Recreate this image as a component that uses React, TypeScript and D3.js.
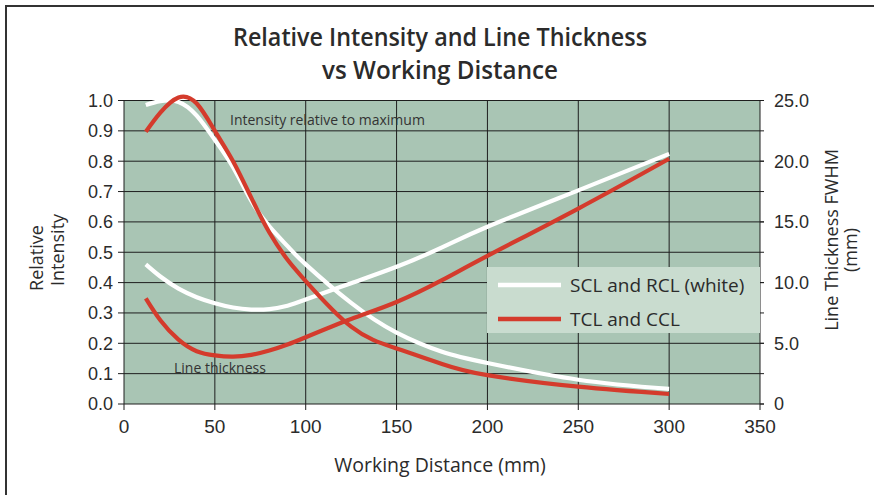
import * as d3 from 'd3';

// working distance (mm) sample points
const distance = [12, 20, 30, 40, 50, 60, 70, 80, 90, 100, 125, 150, 175, 200, 250, 300];

// relative intensity (left axis)
const intensitySCL = [0.985, 0.998, 0.995, 0.95, 0.87, 0.78, 0.67, 0.585, 0.52, 0.46, 0.333, 0.235, 0.172, 0.135, 0.08, 0.05];
const intensityTCL = [0.897, 0.96, 1.01, 0.99, 0.9, 0.8, 0.68, 0.565, 0.475, 0.405, 0.255, 0.183, 0.132, 0.095, 0.057, 0.033];

// line thickness FWHM in mm (right axis)
const thicknessSCL = [11.5, 10.5, 9.5, 8.8, 8.3, 7.95, 7.78, 7.82, 8.1, 8.6, 9.95, 11.3, 12.9, 14.6, 17.6, 20.6];
const thicknessTCL = [8.7, 6.9, 5.3, 4.35, 4.0, 3.9, 4.05, 4.4, 4.9, 5.5, 7.0, 8.4, 10.2, 12.2, 16.1, 20.2];

const xTicks = [0, 50, 100, 150, 200, 250, 300, 350];
const leftTicks = [0, 0.1, 0.2, 0.3, 0.4, 0.5, 0.6, 0.7, 0.8, 0.9, 1.0];
const rightTicks = [0, 5, 10, 15, 20, 25];

const legendItems = [
  { label: 'SCL and RCL (white)', color: '#ffffff' },
  { label: 'TCL and CCL', color: '#d43b2c' },
];

const W = 874;
const H = 495;
const margin = { left: 124, right: 114, top: 100.5, bottom: 91 };

const RED = '#d43b2c';
const TEXT = '#2b2b2b';
const SANS = "'Open Sans', 'Noto Sans', sans-serif";
const ARIAL = "'Liberation Sans', Arial, sans-serif";

export default function App() {
  const x = d3.scaleLinear().domain([0, 350]).range([margin.left, W - margin.right]);
  const yL = d3.scaleLinear().domain([0, 1]).range([H - margin.bottom, margin.top]);
  const yR = d3.scaleLinear().domain([0, 25]).range([H - margin.bottom, margin.top]);

  const lineL = d3
    .line<number>()
    .x((_, i) => x(distance[i]))
    .y((d) => yL(d))
    .curve(d3.curveNatural);
  const lineR = d3
    .line<number>()
    .x((_, i) => x(distance[i]))
    .y((d) => yR(d))
    .curve(d3.curveNatural);

  const [x0, x1] = x.range();
  const [yb, yt] = yL.range();

  return (
    <svg width={W} height={H} style={{ position: 'absolute', left: 0, top: 0, background: '#fff' }}>
      {/* outer frame */}
      <rect x={6} y={6} width={W + 20} height={H + 20} fill="none" stroke="#333" strokeWidth={2} />

      {/* title */}
      <g fill={TEXT} fontFamily="'Open Sans', sans-serif" fontWeight={600} fontSize={25} textAnchor="middle">
        <text x={440} y={46} textLength={414} lengthAdjust="spacingAndGlyphs">Relative Intensity and Line Thickness</text>
        <text x={440} y={79} textLength={236} lengthAdjust="spacingAndGlyphs">vs Working Distance</text>
      </g>

      {/* plot area */}
      <rect x={x0} y={yt} width={x1 - x0} height={yb - yt} fill="#a9c5b4" />

      {/* grid */}
      <g stroke="#1e1e1e" strokeWidth={1}>
        {leftTicks.map((t) => (
          <line key={'h' + t} x1={x0 - 6} x2={x1 + 4} y1={yL(t)} y2={yL(t)} />
        ))}
        {xTicks.map((t) => (
          <line key={'v' + t} x1={x(t)} x2={x(t)} y1={yt} y2={yb + 6} />
        ))}
        {rightTicks.map((t) => (
          <line key={'r' + t} x1={x1} x2={x1 + 4} y1={yR(t)} y2={yR(t)} />
        ))}
      </g>

      {/* tick labels */}
      <g fill={TEXT} fontFamily={ARIAL} fontSize={18}>
        {leftTicks.map((t) => (
          <text key={'lt' + t} x={x0 - 11} y={yL(t)} dy="0.36em" textAnchor="end">
            {t.toFixed(1)}
          </text>
        ))}
        {rightTicks.map((t) => (
          <text key={'rt' + t} x={x1 + 14} y={yR(t)} dy="0.36em" textAnchor="start">
            {t === 0 ? '0' : t.toFixed(1)}
          </text>
        ))}
        {xTicks.map((t) => (
          <text key={'xt' + t} x={x(t)} y={yb + 29} fontSize={19} textAnchor="middle">
            {t}
          </text>
        ))}
      </g>

      {/* annotations */}
      <g fill="#333" fontFamily={SANS} fontSize={14}>
        <text x={230} y={125}>Intensity relative to maximum</text>
        <text x={174} y={373}>Line thickness</text>
      </g>

      {/* legend box */}
      <rect x={487} y={267} width={x1 - 487} height={66} fill="#c9dccf" />
      {legendItems.map((item, i) => (
        <g key={item.label}>
          <line x1={498} x2={561} y1={285 + i * 34} y2={285 + i * 34} stroke={item.color} strokeWidth={4.5} />
          <text x={570} y={285 + i * 34} dy="0.36em" fill={TEXT} fontFamily={SANS} fontSize={19}>
            {item.label}
          </text>
        </g>
      ))}

      {/* curves */}
      <g fill="none" strokeWidth={4.2} strokeLinecap="butt">
        <path d={lineR(thicknessSCL) ?? ''} stroke="#ffffff" />
        <path d={lineL(intensitySCL) ?? ''} stroke="#ffffff" />
        <path d={lineR(thicknessTCL) ?? ''} stroke={RED} />
        <path d={lineL(intensityTCL) ?? ''} stroke={RED} />
      </g>

      {/* axis titles */}
      <g fill={TEXT} fontFamily={SANS} fontSize={18}>
        <text x={W / 2 + 3} y={472} fontSize={19.5} textAnchor="middle">Working Distance (mm)</text>
        <text transform="translate(43,258) rotate(-90)" textAnchor="middle">Relative</text>
        <text transform="translate(64,250) rotate(-90)" textAnchor="middle">Intensity</text>
        <text transform="translate(838,240) rotate(-90)" textAnchor="middle">Line Thickness FWHM</text>
        <text transform="translate(857,250) rotate(-90)" textAnchor="middle">(mm)</text>
      </g>
    </svg>
  );
}
